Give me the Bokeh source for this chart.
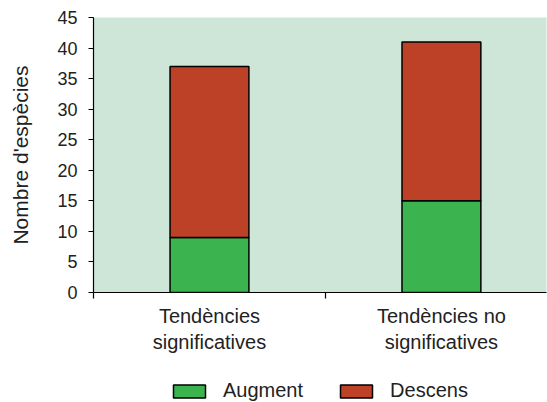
import numpy as np
from bokeh.plotting import figure
from bokeh.layouts import column
from bokeh.models import Range1d, FixedTicker, Legend, LegendItem
from bokeh.embed import file_html
from bokeh.resources import INLINE

categories = ["Tendències\nsignificatives", "Tendències no\nsignificatives"]
augment = [9, 15]
descens = [28, 26]
series_names = ["Augment", "Descens"]
y_ticks = list(range(0, 50, 5))

FONT = "Liberation Sans"
GREEN = "#3bb44f"
RED = "#bd4127"
BG = "#cde6d7"
TXT = "#222222"

n = len(categories)
xpos = np.arange(n) + 0.5
bottom2 = np.array(augment)
top2 = bottom2 + np.array(descens)

p = figure(frame_width=453, frame_height=275, output_backend="svg", toolbar_location=None,
           x_range=Range1d(0, 1.953), y_range=Range1d(0, 45),
           min_border_left=93, min_border_top=17, min_border_right=1, min_border_bottom=68)
p.outline_line_color = None
p.background_fill_color = BG
p.border_fill_color = "white"
p.grid.visible = False

r1 = p.vbar(x=xpos, bottom=0, top=augment, width=0.34, fill_color=GREEN,
            line_color="black", line_width=1.5)
r2 = p.vbar(x=xpos, bottom=bottom2, top=top2, width=0.34, fill_color=RED,
            line_color="black", line_width=1.5)

xa = p.xaxis[0]
xa.ticker = FixedTicker(ticks=list(xpos), minor_ticks=list(np.arange(n + 1)))
xa.major_label_overrides = {float(x): c for x, c in zip(xpos, categories)}
xa.major_tick_out = 0
xa.major_tick_in = 0
xa.minor_tick_out = 6
xa.minor_tick_in = 0
xa.axis_line_color = "black"
xa.axis_line_width = 1.2
xa.minor_tick_line_color = "black"
xa.minor_tick_line_width = 1.2
xa.major_label_text_font = FONT
xa.major_label_text_font_size = "20px"
xa.major_label_text_color = TXT
xa.major_label_standoff = 6

ya = p.yaxis[0]
ya.ticker = FixedTicker(ticks=y_ticks)
ya.major_tick_out = 5
ya.major_tick_in = 0
ya.minor_tick_line_color = None
ya.axis_line_color = "black"
ya.axis_line_width = 1.2
ya.major_tick_line_width = 1.2
ya.major_label_text_font = FONT
ya.major_label_text_font_size = "18px"
ya.major_label_text_color = TXT
ya.major_label_standoff = 11
ya.axis_label = "Nombre d'espècies"
ya.axis_label_text_font = FONT
ya.axis_label_text_font_size = "21px"
ya.axis_label_text_font_style = "normal"
ya.axis_label_text_color = TXT
ya.axis_label_standoff = 22

# legend strip below the chart (its renderers are hidden; only their legend swatches show)
lg = figure(width=547, height=42, output_backend="svg", toolbar_location=None,
            x_axis_type=None, y_axis_type=None, min_border=0,
            x_range=Range1d(0, 1), y_range=Range1d(0, 1))
lg.outline_line_color = None
lg.grid.visible = False
l1 = lg.vbar(x=xpos, bottom=0, top=augment, width=0.34, fill_color=GREEN,
             line_color="black", line_width=1.5, visible=False)
l2 = lg.vbar(x=xpos, bottom=bottom2, top=top2, width=0.34, fill_color=RED,
             line_color="black", line_width=1.5, visible=False)
legend = Legend(items=[LegendItem(label=series_names[0], renderers=[l1]),
                       LegendItem(label=series_names[1], renderers=[l2])],
                orientation="horizontal", location=(76, 0),
                label_text_font=FONT, label_text_font_size="20px",
                label_text_color=TXT,
                glyph_width=40, glyph_height=16, spacing=33, label_standoff=14,
                border_line_color=None, background_fill_alpha=0,
                margin=0, padding=2)
lg.add_layout(legend, "center")

layout = column(p, lg, spacing=0)
open("out.html", "w").write(file_html(layout, INLINE))
